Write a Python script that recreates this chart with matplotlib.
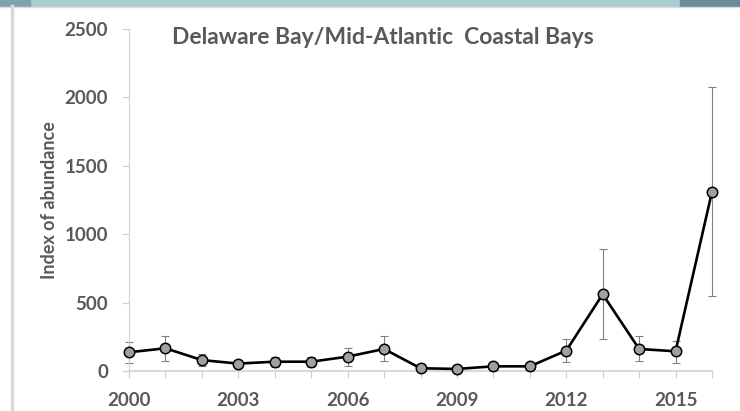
import numpy as np
import matplotlib.pyplot as plt
from matplotlib.lines import Line2D
from matplotlib.patches import Rectangle

# index of abundance per year
years = np.arange(2000, 2017)
index = [137, 166, 80, 54, 68, 68, 105, 161, 20, 15, 34, 34, 149, 561, 161, 144, 1311]
err_hi = [214, 258, 127, 75, 105, 105, 166, 258, 30, 22, 45, 45, 234, 890, 258, 222, 2074]
err_lo = [58, 73, 39, 35, 31, 31, 39, 73, 12, 9, 24, 24, 66, 234, 73, 58, 550]
xtick_years = [2000, 2003, 2006, 2009, 2012, 2015]
yticks = [0, 500, 1000, 1500, 2000, 2500]

grey_txt = '#595959'
plt.rcParams['font.family'] = ['Lato', 'DejaVu Sans']

fig = plt.figure(figsize=(7.4, 4.11), dpi=100)

# slide decoration: teal band on top and grey frame line on the left
fig.patches.append(Rectangle((0, 1 - 6/411), 1, 6/411, transform=fig.transFigure,
                             color='#a8cdd1', zorder=0))
fig.patches.append(Rectangle((680/740, 1 - 6/411), 60/740, 6/411, transform=fig.transFigure,
                             color='#6b8a9b', zorder=0))
fig.patches.append(Rectangle((0, 1 - 6/411), 30/740, 6/411, transform=fig.transFigure,
                             color='#7fa3ad', zorder=0))
fig.lines.append(Line2D([0, 1], [1 - 7/411, 1 - 7/411], transform=fig.transFigure,
                        color='#dddddd', lw=1))
fig.lines.append(Line2D([12/740, 12/740], [0, 1 - 6/411], transform=fig.transFigure,
                        color='#d9d9d9', lw=2.5))

ax = fig.add_axes([129/740, 1 - 371/411, 583/740, 342/411])

idx = np.array(index)
yerr = [idx - np.array(err_lo), np.array(err_hi) - idx]
eb = ax.errorbar(years, idx, yerr=yerr, fmt='none', ecolor='#808080', elinewidth=0.8,
                 capsize=3.2, capthick=0.8, zorder=2)
for child in eb.get_children():
    child.set_clip_on(False)
ax.plot(years, idx, color='black', lw=1.9, marker='o', markersize=7.5,
        markerfacecolor='#a0a0a0', markeredgecolor='black', markeredgewidth=1.1,
        zorder=3, clip_on=False)

ax.set_xlim(2000, 2016)
ax.set_ylim(0, 2500)
ax.set_xticks(years, minor=True)
ax.set_xticks(xtick_years)
ax.set_yticks(yticks)
ax.tick_params(axis='x', which='both', direction='out', length=5, width=0.8,
               color='#d0d0d0', pad=10)
ax.tick_params(axis='y', direction='out', length=5, width=0.8, color='#d0d0d0', pad=10)
for lab in ax.get_xticklabels() + ax.get_yticklabels():
    lab.set_fontsize(13.5)
    lab.set_fontweight('bold')
    lab.set_color(grey_txt)

for s in ['top', 'right']:
    ax.spines[s].set_visible(False)
ax.spines['left'].set_color('#d0d0d0')
ax.spines['bottom'].set_color('#d9d9d9')
ax.spines['bottom'].set_linewidth(1.5)
ax.spines['left'].set_linewidth(0.8)

ax.set_ylabel('Index of abundance', fontsize=13, fontweight='bold', color=grey_txt,
              labelpad=5)
fig.text(383/740, 1 - 38/411, 'Delaware Bay/Mid-Atlantic  Coastal Bays', ha='center',
         va='center', fontsize=16.5, fontweight='bold', color=grey_txt)
ax.patch.set_alpha(0)

fig.savefig('out.png', dpi=100)
